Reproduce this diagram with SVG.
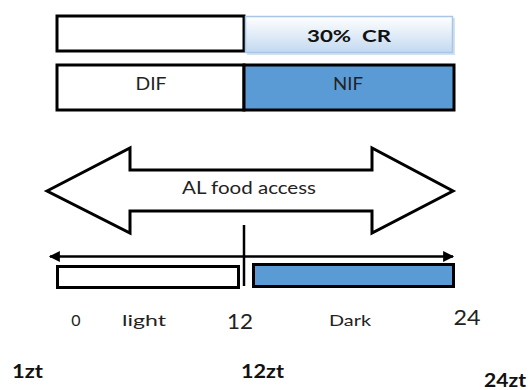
<svg xmlns="http://www.w3.org/2000/svg" width="530" height="390" viewBox="0 0 530 390">
<style>
  text { font-family: Lato, "Open Sans", "Liberation Sans", sans-serif; fill: #222; }
  .b { font-weight: bold; fill: #111; }
  .box { stroke: #000; stroke-width: 3; }
  .blue { fill: #5b9bd5; }
  .ln { stroke: #000; stroke-width: 2.5; fill: none; }
</style>
<defs>
  <linearGradient id="g" x1="0" y1="0" x2="0" y2="1">
    <stop offset="0" stop-color="#ffffff"/>
    <stop offset="1" stop-color="#c3d9f0"/>
  </linearGradient>
  <marker id="ah" viewBox="0 0 10 10" refX="9" refY="5" markerWidth="5" markerHeight="4.4" orient="auto-start-reverse" markerUnits="strokeWidth">
    <path d="M0,0 L10,5 L0,10 Z" fill="#000"/>
  </marker>
</defs>
<rect width="530" height="390" fill="#fff"/>

<g id="cr-row">
  <rect x="57" y="16" width="187" height="35" fill="#fff" class="box"/>
  <rect x="247" y="18" width="208" height="37" fill="#aac4e0" opacity="0.5"/>
  <rect x="245.5" y="16.5" width="207" height="36" fill="url(#g)" stroke="#a9c6e6" stroke-width="1.5"/>
  <text x="349" y="42" text-anchor="middle" font-size="17" class="b" textLength="84" lengthAdjust="spacingAndGlyphs">30%&#160; CR</text>
</g>

<g id="dif-nif-row">
  <rect x="57" y="65" width="187" height="45" fill="#fff" class="box"/>
  <rect x="244" y="65" width="210" height="45" class="blue box"/>
  <text x="151" y="90" text-anchor="middle" font-size="17" textLength="31" lengthAdjust="spacingAndGlyphs">DIF</text>
  <text x="348" y="90" text-anchor="middle" font-size="17" textLength="30" lengthAdjust="spacingAndGlyphs">NIF</text>
</g>

<g id="al-arrow">
  <path d="M47,191 L130,148 L130,170 L372,170 L372,148 L453,191 L372,233 L372,211 L130,211 L130,233 Z" fill="#fff" stroke="#000" stroke-width="3" stroke-linejoin="miter"/>
  <text x="249" y="194" text-anchor="middle" font-size="17" textLength="134" lengthAdjust="spacingAndGlyphs">AL food access</text>
</g>

<g id="connectors">
  <line x1="50" y1="256.5" x2="453" y2="256.5" class="ln" stroke-width="2" marker-start="url(#ah)" marker-end="url(#ah)"/>
  <line x1="244" y1="225" x2="244" y2="286" class="ln"/>
</g>

<g id="light-bar">
  <rect x="57.5" y="266.5" width="181" height="21" fill="#fff" class="box"/>
</g>
<g id="dark-bar">
  <rect x="253.5" y="264.5" width="200" height="22" class="blue box"/>
</g>

<g id="labels">
  <text x="76" y="326" text-anchor="middle" font-size="16">0</text>
  <text x="144" y="326" text-anchor="middle" font-size="16" textLength="44" lengthAdjust="spacingAndGlyphs">light</text>
  <text x="240" y="329" text-anchor="middle" font-size="21" textLength="26" lengthAdjust="spacingAndGlyphs">12</text>
  <text x="350" y="326" text-anchor="middle" font-size="16" textLength="42" lengthAdjust="spacingAndGlyphs">Dark</text>
  <text x="467" y="325" text-anchor="middle" font-size="21" textLength="27" lengthAdjust="spacingAndGlyphs">24</text>
  <text x="12" y="378" font-size="19" class="b" textLength="31" lengthAdjust="spacingAndGlyphs">1zt</text>
  <text x="241" y="378" font-size="19" class="b" textLength="43" lengthAdjust="spacingAndGlyphs">12zt</text>
  <text x="484" y="387" font-size="19" class="b" textLength="42" lengthAdjust="spacingAndGlyphs">24zt</text>
</g>
</svg>
